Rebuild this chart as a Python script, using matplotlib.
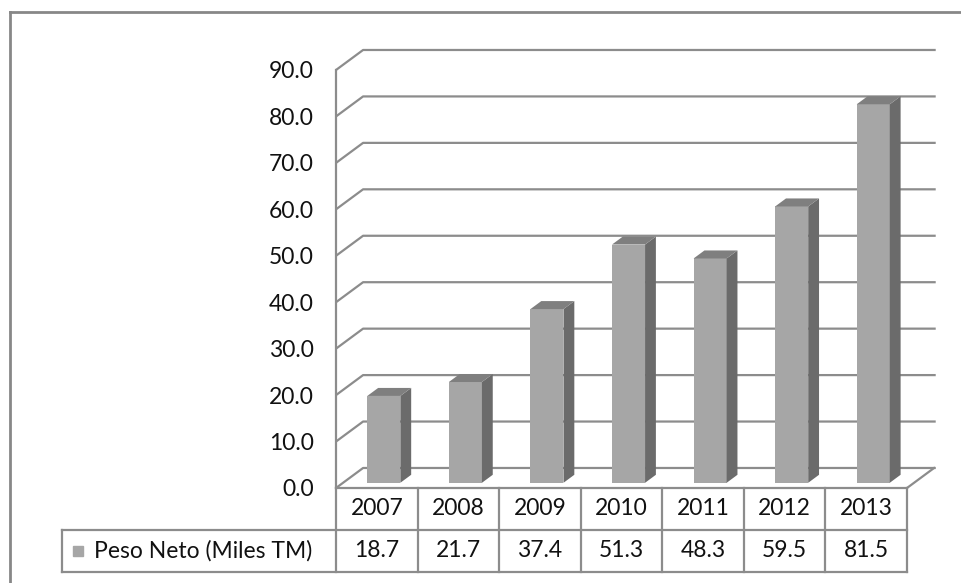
import matplotlib
matplotlib.use('Agg')
import matplotlib.pyplot as plt
from matplotlib.lines import Line2D

# data
years = ['2007', '2008', '2009', '2010', '2011', '2012', '2013']
peso_neto = [18.7, 21.7, 37.4, 51.3, 48.3, 59.5, 81.5]
series_name = 'Peso Neto (Miles TM)'
y_ticks = list(range(0, 100, 10))

# look of the pseudo-3d frame
FRONT = '#a6a6a6'       # bar front face
SIDE = '#6b6b6b'        # bar right face
TOP = '#7f7f7f'         # bar top face
GRID = '#8c8c8c'
TEXT = '#111111'
FS = 16.5
DX, DY = 0.332, 4.31    # depth of the floor/walls in data units (category, value)
BAR_W = 0.405
BAR_POS = 0.26          # where the bar's front sits inside the depth (0 = front)
BAR_DEPTH = 0.40        # bar depth as a share of DX/DY
ROW_H = 9.04            # data table row height in value units
LEG_X = -3.365          # left edge of the legend cell

plt.rcParams['font.family'] = ['Lato', 'DejaVu Sans']

fig = plt.figure(figsize=(9.61, 5.83), dpi=100)
ax = fig.add_axes([336 / 961, 95 / 583, 571 / 961, 418 / 583])
ax.set_xlim(0, len(years))
ax.set_ylim(0, 90)
for s in ax.spines.values():
    s.set_visible(False)
ax.set_xticks([])
ax.set_yticks(y_ticks)
ax.set_yticklabels([f'{v:.1f}' for v in y_ticks])
ax.tick_params(axis='y', length=0, pad=16, labelsize=FS, labelcolor=TEXT)

n = len(years)

# back wall gridlines running round the left wall
for v in y_ticks:
    ax.plot([0, DX, n + DX + 0.02], [v, v + DY, v + DY], color=GRID, lw=1.6,
            clip_on=False, zorder=1, solid_capstyle='butt')
# value axis and right edge of the floor
ax.plot([0, 0], [0, 90], color=GRID, lw=1.6, clip_on=False, zorder=1)
ax.plot([n, n + DX], [0, DY], color=GRID, lw=1.6, clip_on=False, zorder=1)

# 3d-looking columns
bdx, bdy = BAR_DEPTH * DX, BAR_DEPTH * DY
for i, v in enumerate(peso_neto):
    x0 = i + 0.5 - BAR_W / 2 + BAR_POS * DX
    y0 = BAR_POS * DY
    x1 = x0 + BAR_W
    ax.fill([x0, x1, x1, x0], [y0, y0, y0 + v, y0 + v], color=FRONT,
            clip_on=False, zorder=3, lw=0)
    ax.fill([x1, x1 + bdx, x1 + bdx, x1], [y0, y0 + bdy, y0 + v + bdy, y0 + v],
            color=SIDE, clip_on=False, zorder=3, lw=0)
    ax.fill([x0, x1, x1 + bdx, x0 + bdx], [y0 + v, y0 + v, y0 + v + bdy, y0 + v + bdy],
            color=TOP, clip_on=False, zorder=3, lw=0)

# data table under the plot
tkw = dict(color=GRID, lw=1.6, clip_on=False, zorder=2)
ax.plot([0, n], [0, 0], **tkw)
ax.plot([LEG_X, n], [-ROW_H, -ROW_H], **tkw)
ax.plot([LEG_X, n], [-2 * ROW_H, -2 * ROW_H], **tkw)
for i in range(n + 1):
    ax.plot([i, i], [0, -2 * ROW_H], **tkw)
ax.plot([LEG_X, LEG_X], [-ROW_H, -2 * ROW_H], **tkw)

for i, (yr, v) in enumerate(zip(years, peso_neto)):
    ax.text(i + 0.5, -ROW_H / 2, yr, ha='center', va='center', fontsize=FS, color=TEXT)
    ax.text(i + 0.5, -1.5 * ROW_H, f'{v:.1f}', ha='center', va='center',
            fontsize=FS, color=TEXT)

# legend key inside the table
ax.plot([-3.165], [-1.5 * ROW_H], marker='s', ms=7, color=FRONT, lw=0, clip_on=False)
ax.text(-2.97, -1.5 * ROW_H, series_name, ha='left', va='center', fontsize=FS, color=TEXT)

# chart area border (runs off the right and bottom)
bx, by = 9.5 / 961, 1 - 11.5 / 583
fig.add_artist(Line2D([bx, bx], [0, by], transform=fig.transFigure, color='#878787', lw=2))
fig.add_artist(Line2D([bx, 1], [by, by], transform=fig.transFigure, color='#878787', lw=2))

fig.savefig('out.png', dpi=100)
